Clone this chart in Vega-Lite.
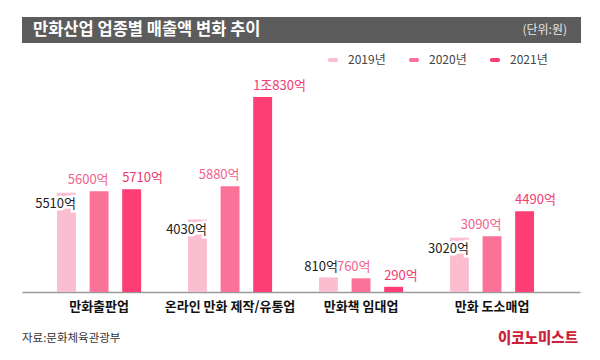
{
  "$schema": "https://vega.github.io/schema/vega-lite/v6.json",
  "background": "white",
  "padding": {"left": 22, "top": 17, "right": 19, "bottom": 0},
  "config": {"font": "Noto Sans CJK KR", "view": {"stroke": null}},
  "spacing": 27,
  "vconcat": [
    {
      "width": 559,
      "height": 26,
      "view": {"fill": "#5c5c5c", "stroke": null},
      "data": {"values": [{"t": "만화산업 업종별 매출액 변화 추이", "u": "(단위:원)"}]},
      "layer": [
        {
          "mark": {"type": "text", "align": "left", "baseline": "middle", "x": 11, "y": 13, "fontSize": 16.5, "fontWeight": "bold", "color": "white", "font": "Noto Sans CJK KR"},
          "encoding": {"text": {"field": "t"}}
        },
        {
          "mark": {"type": "text", "align": "right", "baseline": "middle", "x": 545, "y": 13, "fontSize": 12, "color": "#e6e6e6", "font": "Noto Sans CJK KR"},
          "encoding": {"text": {"field": "u"}}
        }
      ]
    },
    {
      "width": 558,
      "height": 222,
      "data": {"values": [
        {"cat": "만화출판업", "year": "2019년", "value": 5510, "label": "5510억"},
        {"cat": "만화출판업", "year": "2020년", "value": 5600, "label": "5600억"},
        {"cat": "만화출판업", "year": "2021년", "value": 5710, "label": "5710억"},
        {"cat": "온라인 만화 제작/유통업", "year": "2019년", "value": 4030, "label": "4030억"},
        {"cat": "온라인 만화 제작/유통업", "year": "2020년", "value": 5880, "label": "5880억"},
        {"cat": "온라인 만화 제작/유통업", "year": "2021년", "value": 10830, "label": "1조830억"},
        {"cat": "만화책 임대업", "year": "2019년", "value": 810, "label": "810억"},
        {"cat": "만화책 임대업", "year": "2020년", "value": 760, "label": "760억"},
        {"cat": "만화책 임대업", "year": "2021년", "value": 290, "label": "290억"},
        {"cat": "만화 도소매업", "year": "2019년", "value": 3020, "label": "3020억"},
        {"cat": "만화 도소매업", "year": "2020년", "value": 3090, "label": "3090억"},
        {"cat": "만화 도소매업", "year": "2021년", "value": 4490, "label": "4490억"}
      ]},
      "encoding": {
        "x": {
          "field": "cat", "type": "nominal", "sort": null,
          "scale": {"paddingInner": 0, "paddingOuter": 0.13, "align": 0.34},
          "axis": {"title": null, "labelAngle": 0, "ticks": false, "domainColor": "#9a9a9a", "domainWidth": 1.5, "labelFontSize": 13, "labelFontWeight": "bold", "labelColor": "#111111", "labelPadding": 8, "labelFont": "Noto Sans CJK KR"}
        },
        "xOffset": {"field": "year", "type": "nominal", "scale": {"paddingInner": 0.42, "paddingOuter": 0.72}},
        "y": {"field": "value", "type": "quantitative", "scale": {"domain": [0, 12330]}, "axis": null}
      },
      "layer": [
        {
          "mark": {"type": "bar"},
          "encoding": {
            "color": {
              "field": "year", "type": "nominal",
              "scale": {"domain": ["2019년", "2020년", "2021년"], "range": ["#fbbdd0", "#fb7298", "#fd3e74"]},
              "legend": {
                "orient": "none", "legendX": 305, "legendY": 37, "direction": "horizontal", "title": null,
                "symbolType": "M-0.5,-0.35 L0.5,-0.35 A0.35,0.35 0 0 1 0.5,0.35 L-0.5,0.35 A0.35,0.35 0 0 1 -0.5,-0.35 Z",
                "symbolSize": 144, "symbolStrokeWidth": 0, "labelOffset": 9, "columnPadding": 22,
                "labelFontSize": 12, "labelColor": "#444444", "labelFont": "Noto Sans CJK KR"
              }
            }
          }
        },
        {
          "transform": [{"filter": "datum.year == '2019년' && datum.value > 2000"}],
          "mark": {"type": "text", "align": "right", "baseline": "middle", "dx": 9.5, "dy": 11, "fontSize": 13, "color": "white", "stroke": "white", "strokeWidth": 5},
          "encoding": {"text": {"field": "label"}}
        },
        {
          "transform": [{"filter": "datum.year == '2019년' && datum.value > 2000"}],
          "mark": {"type": "text", "align": "right", "baseline": "middle", "dx": 9.5, "dy": 11, "fontSize": 13, "color": "#222222"},
          "encoding": {"text": {"field": "label"}}
        },
        {
          "transform": [{"filter": "datum.year == '2019년' && datum.value <= 2000"}],
          "mark": {"type": "text", "align": "right", "baseline": "middle", "dx": 9.5, "dy": -10, "fontSize": 13, "color": "#222222"},
          "encoding": {"text": {"field": "label"}}
        },
        {
          "transform": [{"filter": "datum.year == '2020년'"}],
          "mark": {"type": "text", "align": "right", "baseline": "middle", "dx": 9.5, "dy": -11, "fontSize": 13, "color": "#f2628d"},
          "encoding": {"text": {"field": "label"}}
        },
        {
          "transform": [{"filter": "datum.year == '2021년'"}],
          "mark": {"type": "text", "align": "left", "baseline": "middle", "dx": -9.5, "dy": -11, "fontSize": 13, "color": "#f03a70"},
          "encoding": {"text": {"field": "label"}}
        },
        {
          "transform": [{"filter": "datum.cat == '만화출판업' && datum.year == '2019년'"}],
          "mark": {"type": "text", "align": "left", "baseline": "middle", "fontSize": 11.5, "color": "#333333", "font": "Noto Sans CJK KR"},
          "encoding": {"x": {"value": 0}, "xOffset": {"value": 0}, "y": {"value": 269}, "text": {"value": "자료:문화체육관광부"}}
        },
        {
          "transform": [{"filter": "datum.cat == '만화출판업' && datum.year == '2019년'"}],
          "mark": {"type": "text", "align": "right", "baseline": "middle", "fontSize": 14.5, "fontWeight": 900, "color": "#cc1f3a", "font": "Noto Sans CJK KR"},
          "encoding": {"x": {"value": 556}, "xOffset": {"value": 0}, "y": {"value": 269}, "text": {"value": "이코노미스트"}}
        }
      ]
    }
  ]
}
